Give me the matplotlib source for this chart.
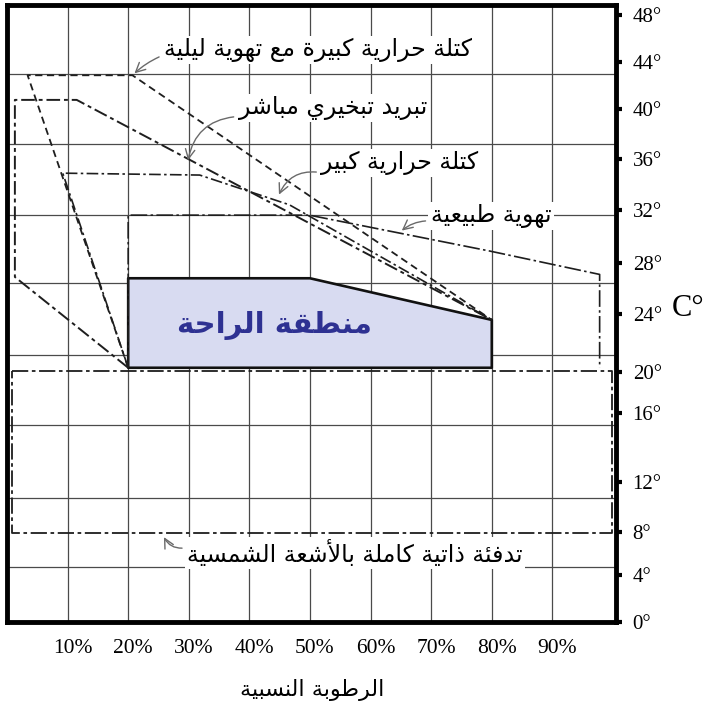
import numpy as np
import matplotlib.pyplot as plt
from matplotlib.scale import FuncScale
from matplotlib.transforms import ScaledTranslation

# relative humidity (%) and temperature (C) ticks
rh_ticks = [10, 20, 30, 40, 50, 60, 70, 80, 90]
temp_ticks = [0, 4, 8, 12, 16, 20, 24, 28, 32, 36, 40, 44, 48]

# zones, as (RH %, T C) vertices
comfort_rh = [20, 20, 50, 80, 80]
comfort_t = [20.3, 26.8, 26.8, 23.6, 20.3]

night_vent_rh = [20, 3.4, 20.7, 80]
night_vent_t = [20.3, 42.9, 42.9, 23.6]

evap_rh = [20, 1.3, 1.3, 11.5, 80]
evap_t = [20.3, 26.9, 40.8, 40.8, 23.6]

mass_rh = [20, 9.2, 31.8, 46.6, 80]
mass_t = [20.3, 34.9, 34.75, 32.4, 23.6]

nat_vent_rh = [20, 20, 49.9, 79.6, 97.8, 97.8]
nat_vent_t = [20.3, 31.6, 31.6, 28.9, 27.1, 20.3]

solar_rh = [0.9, 99.8, 99.8, 0.9, 0.9]
solar_t = [20.1, 20.1, 7.9, 7.9, 20.1]

# the printed temperature scale is uneven: where each tick sits (fraction of axis height)
tick_frac = [0.0, 0.076, 0.146, 0.227, 0.339, 0.405, 0.499, 0.582, 0.668, 0.750, 0.831, 0.907, 0.984, 1.0]
tick_temp = temp_ticks + [48.85]

# Arabic presentation forms: isolated, final, initial, medial
FORMS = {
    'ا': (0xFE8D, 0xFE8E, None, None),
    'أ': (0xFE83, 0xFE84, None, None),
    'ب': (0xFE8F, 0xFE90, 0xFE91, 0xFE92),
    'ة': (0xFE93, 0xFE94, None, None),
    'ت': (0xFE95, 0xFE96, 0xFE97, 0xFE98),
    'ح': (0xFEA1, 0xFEA2, 0xFEA3, 0xFEA4),
    'خ': (0xFEA5, 0xFEA6, 0xFEA7, 0xFEA8),
    'د': (0xFEA9, 0xFEAA, None, None),
    'ذ': (0xFEAB, 0xFEAC, None, None),
    'ر': (0xFEAD, 0xFEAE, None, None),
    'س': (0xFEB1, 0xFEB2, 0xFEB3, 0xFEB4),
    'ش': (0xFEB5, 0xFEB6, 0xFEB7, 0xFEB8),
    'ط': (0xFEC1, 0xFEC2, 0xFEC3, 0xFEC4),
    'ع': (0xFEC9, 0xFECA, 0xFECB, 0xFECC),
    'ف': (0xFED1, 0xFED2, 0xFED3, 0xFED4),
    'ق': (0xFED5, 0xFED6, 0xFED7, 0xFED8),
    'ك': (0xFED9, 0xFEDA, 0xFEDB, 0xFEDC),
    'ل': (0xFEDD, 0xFEDE, 0xFEDF, 0xFEE0),
    'م': (0xFEE1, 0xFEE2, 0xFEE3, 0xFEE4),
    'ن': (0xFEE5, 0xFEE6, 0xFEE7, 0xFEE8),
    'ه': (0xFEE9, 0xFEEA, 0xFEEB, 0xFEEC),
    'و': (0xFEED, 0xFEEE, None, None),
    'ي': (0xFEF1, 0xFEF2, 0xFEF3, 0xFEF4),
    'ئ': (0xFE89, 0xFE8A, 0xFE8B, 0xFE8C),
    'لا': (0xFEFB, 0xFEFC, None, None),
    'لأ': (0xFEF7, 0xFEF8, None, None),
}


def ar(text):
    # join letters and reverse for left-to-right drawing
    chars = []
    i = 0
    while i < len(text):
        if text[i] == 'ل' and i + 1 < len(text) and text[i + 1] in 'اأ':
            chars.append(text[i:i + 2])
            i += 2
        else:
            chars.append(text[i])
            i += 1
    out = []
    for k, c in enumerate(chars):
        if c not in FORMS:
            out.append(c)
            continue
        iso, fin, ini, med = FORMS[c]
        prev = chars[k - 1] if k > 0 else None
        nxt = chars[k + 1] if k + 1 < len(chars) else None
        jp = prev in FORMS and FORMS[prev][2] is not None
        jn = ini is not None and nxt in FORMS
        if jp and jn:
            code = med
        elif jp:
            code = fin
        elif jn:
            code = ini
        else:
            code = iso
        out.append(chr(code))
    return ''.join(reversed(out))


def px(x, y):
    return (x / 706, 1 - y / 708)


fig = plt.figure(figsize=(7.06, 7.08), dpi=100)
ax = fig.add_axes([7 / 706, 86 / 708, 609 / 706, 617 / 708])

ax.set_yscale(FuncScale(ax.yaxis, (lambda t: np.interp(t, tick_temp, tick_frac),
                                   lambda f: np.interp(f, tick_frac, tick_temp))))
ax.set_xlim(0, 100.5)
ax.set_ylim(0, 48.85)

grid_c = '#4a4a4a'
for x in rh_ticks:
    ax.axvline(x, color=grid_c, lw=0.9, zorder=1)
for f in [0.0891, 0.201, 0.3193, 0.4327, 0.5494, 0.6596, 0.7747, 0.8882]:
    ax.plot([0, 1], [f, f], transform=ax.transAxes, color=grid_c, lw=0.9, zorder=1)

line_c = '#1e1e1e'
ax.fill(comfort_rh, comfort_t, facecolor='#d8dbf1', edgecolor='#111111', lw=1.9,
        joinstyle='round', zorder=3)
ax.plot(night_vent_rh, night_vent_t, color=line_c, lw=1.3, ls=(0, (4, 2.5)), zorder=4)
ax.plot(evap_rh, evap_t, color=line_c, lw=1.4, ls=(0, (7, 2, 2, 2)), zorder=4)
ax.plot(mass_rh, mass_t, color=line_c, lw=1.2, ls=(0, (7, 2, 1.5, 2)), zorder=4)
ax.plot(nat_vent_rh, nat_vent_t, color=line_c, lw=1.2, ls=(0, (10, 2, 1.5, 2)), zorder=4)
ax.plot(solar_rh, solar_t, color=line_c, lw=1.3, ls=(0, (9, 2, 2, 2)), zorder=4)

ax.text(44.2, 23.2, ar('منطقة الراحة'), ha='center', va='center', fontsize=21,
        fontweight='bold', color='#2e3192', family='DejaVu Sans', zorder=6)

box = dict(boxstyle='square,pad=0.1', fc='white', ec='none')
arrow_c = '#6a6a6a'
notes = [
    ('كتلة حرارية كبيرة مع تهوية ليلية', (20.7, 42.9), (318, 50), 0.1, (0, 0.3)),
    ('تبريد تبخيري مباشر', (29.8, 35.7), (333, 108), 0.4, (0, 0.15)),
    ('كتلة حرارية كبير', (44.7, 33.0), (400, 163), 0.4, (0, 0.1)),
    ('تهوية طبيعية', (64.8, 30.3), (491, 216), 0.2, (0, 0.3)),
    ('تدفئة ذاتية كاملة بالأشعة الشمسية', (25.7, 7.75), (355, 553), -0.4, (0, 0.7)),
]
for label, tip, pos, rad, rel in notes:
    ax.annotate(ar(label), xy=tip, xycoords='data', xytext=px(*pos),
                textcoords='figure fraction', ha='center', va='center',
                fontsize=17, family='DejaVu Sans', bbox=box, zorder=7,
                arrowprops=dict(arrowstyle='->,head_length=0.4,head_width=0.2',
                                color=arrow_c, lw=1.0, relpos=rel,
                                connectionstyle='arc3,rad=%s' % rad))

serif = 'Liberation Serif'
ax.set_xticks(rh_ticks)
ax.set_xticklabels(['%d%%' % v for v in rh_ticks], family=serif, fontsize=15.5)
ax.tick_params(axis='x', length=0, pad=12)
shift = ScaledTranslation(5 / 100, 0, fig.dpi_scale_trans)
for lab in ax.get_xticklabels():
    lab.set_transform(lab.get_transform() + shift)
ax.yaxis.tick_right()
ax.set_yticks(temp_ticks)
ax.set_yticklabels(['%d°' % v for v in temp_ticks], family=serif, fontsize=15)
ax.tick_params(axis='y', direction='out', length=4, width=3, pad=8)

for s in ax.spines.values():
    s.set_linewidth(3.5)
    s.set_zorder(8)

fig.text(*px(672, 316), 'C°', family=serif, fontsize=22, ha='left', va='baseline')
fig.text(*px(312, 690), ar('الرطوبة النسبية'), family='DejaVu Sans', fontsize=16,
         ha='center', va='center')

fig.savefig('out.png', dpi=100)
